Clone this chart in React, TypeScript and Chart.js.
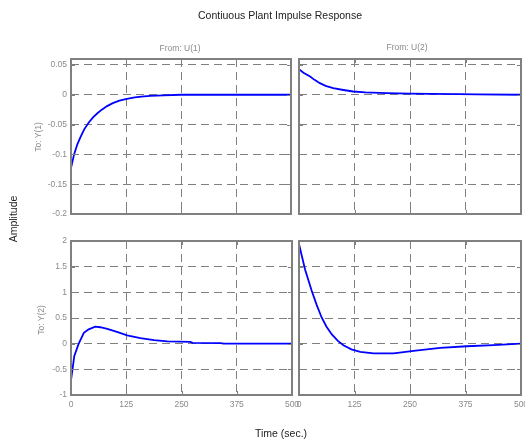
import React, { useEffect, useRef } from "react";
import { Chart, registerables } from "chart.js";

Chart.register(...registerables);

// ---- data ----
const xTickValues = [0, 125, 250, 375, 500];

// From U(1) -> To Y(1)
const times11 = [0, 7, 14, 21, 30, 40, 50, 60, 70, 82, 95, 110, 127, 145, 160, 180, 210, 250, 300, 400, 500];
const values11 = [-0.123, -0.1, -0.084, -0.072, -0.058, -0.047, -0.038, -0.031, -0.025, -0.019, -0.014, -0.01, -0.0067, -0.0045, -0.003, -0.002, -0.001, 0, 0, 0, 0];

// From U(2) -> To Y(1)
const times12 = [0, 10, 25, 35, 47, 60, 77, 100, 122, 150, 198, 250, 300, 360, 400, 500];
const values12 = [0.043, 0.037, 0.0305, 0.025, 0.0195, 0.015, 0.011, 0.008, 0.0055, 0.004, 0.0028, 0.002, 0.0015, 0.001, 0.0005, 0];

// From U(1) -> To Y(2)
const times21 = [0, 7.5, 17, 29, 40, 55, 66, 82, 104, 127, 157, 188, 218, 270, 275, 339, 345, 500];
const values21 = [-0.71, -0.24, -0.01, 0.21, 0.28, 0.33, 0.32, 0.29, 0.23, 0.16, 0.11, 0.07, 0.045, 0.035, 0.015, 0.01, 0, 0];

// From U(2) -> To Y(2)
const times22 = [0, 13.5, 28.6, 40, 51, 62, 74, 87, 100, 118, 138, 168, 213, 258, 318, 378, 438, 500];
const values22 = [1.94, 1.45, 1.03, 0.75, 0.51, 0.33, 0.18, 0.06, -0.03, -0.11, -0.16, -0.19, -0.19, -0.14, -0.08, -0.05, -0.03, 0];

const topYRange = { min: -0.2, max: 0.06, step: 0.05 };
const bottomYRange = { min: -1, max: 2, step: 0.5 };

const FONT = "'Liberation Sans', Arial, Helvetica, sans-serif";
const W = 525;
const H = 441;
const Y_AXIS_W = 40;
const X_AXIS_H = 20;

type Area = { l: number; t: number; r: number; b: number };

type PanelCfg = {
  times: number[];
  values: number[];
  yr: { min: number; max: number; step: number };
  showX: boolean;
  showY: boolean;
  area: Area;
};

const boxPlugin = {
  id: "matlabBox",
  afterDraw(chart: any) {
    const { ctx, chartArea } = chart;
    const { left, top, right, bottom } = chartArea;
    const xs = chart.scales.x;
    const ys = chart.scales.y;
    ctx.save();
    ctx.strokeStyle = "#808080";
    ctx.lineWidth = 1;
    ctx.beginPath();
    const tl = 4;
    xs.ticks.forEach((t: any) => {
      const px = Math.round(xs.getPixelForValue(t.value)) + 0.5;
      ctx.moveTo(px, bottom);
      ctx.lineTo(px, bottom - tl);
      ctx.moveTo(px, top);
      ctx.lineTo(px, top + tl);
    });
    ys.ticks.forEach((t: any) => {
      const py = Math.round(ys.getPixelForValue(t.value)) + 0.5;
      ctx.moveTo(left, py);
      ctx.lineTo(left + tl, py);
      ctx.moveTo(right, py);
      ctx.lineTo(right - tl, py);
    });
    ctx.stroke();
    ctx.lineWidth = 2;
    ctx.strokeRect(left, top, right - left, bottom - top);
    ctx.restore();
  },
};

function Panel({ cfg }: { cfg: PanelCfg }) {
  const ref = useRef<HTMLCanvasElement | null>(null);
  useEffect(() => {
    const { area } = cfg;
    const data = cfg.times.map((t, i) => ({ x: t, y: cfg.values[i] }));
    const chart = new Chart(ref.current as HTMLCanvasElement, {
      type: "line",
      data: {
        datasets: [
          {
            data,
            borderColor: "#0000ff",
            borderWidth: 1.8,
            pointRadius: 0,
            tension: 0,
            fill: false,
          },
        ],
      },
      options: {
        animation: false,
        responsive: false,
        maintainAspectRatio: false,
        events: [],
        layout: {
          padding: {
            left: area.l - Y_AXIS_W,
            top: area.t,
            right: W - area.r,
            bottom: H - area.b - X_AXIS_H,
          },
        },
        plugins: { legend: { display: false }, tooltip: { enabled: false }, title: { display: false } },
        scales: {
          x: {
            type: "linear",
            min: 0,
            max: 500,
            afterBuildTicks: (s: any) => {
              s.ticks = xTickValues.map((v) => ({ value: v }));
            },
            afterFit: (s: any) => {
              s.height = X_AXIS_H;
              s.paddingLeft = 0;
              s.paddingRight = 0;
            },
            grid: { color: "#808080", lineWidth: 1, drawTicks: false },
            border: { display: false, dash: [8, 5] },
            ticks: {
              display: cfg.showX,
              padding: 5,
              color: "#8a8a8a",
              font: { family: FONT, size: 8.5 },
              maxRotation: 0,
              autoSkip: false,
              callback: (v: any) => String(v),
            },
          },
          y: {
            type: "linear",
            min: cfg.yr.min,
            max: cfg.yr.max,
            afterFit: (s: any) => {
              s.width = Y_AXIS_W;
              s.paddingTop = 0;
              s.paddingBottom = 0;
            },
            grid: { color: "#808080", lineWidth: 1, drawTicks: false },
            border: { display: false, dash: [8, 5] },
            ticks: {
              display: cfg.showY,
              stepSize: cfg.yr.step,
              includeBounds: false,
              padding: 4,
              color: "#8a8a8a",
              font: { family: FONT, size: 8.5 },
              callback: (v: any) => String(Math.round(Number(v) * 100) / 100),
            },
          },
        },
      },
      plugins: [boxPlugin],
    } as any);
    return () => chart.destroy();
  }, []);
  return (
    <canvas
      ref={ref}
      width={W}
      height={H}
      style={{ position: "absolute", left: 0, top: 0, width: W, height: H }}
    />
  );
}

const panels: PanelCfg[] = [
  { times: times11, values: values11, yr: topYRange, showX: false, showY: true, area: { l: 71, t: 59, r: 291, b: 214 } },
  { times: times12, values: values12, yr: topYRange, showX: false, showY: false, area: { l: 299, t: 59, r: 521, b: 214 } },
  { times: times21, values: values21, yr: bottomYRange, showX: true, showY: true, area: { l: 71, t: 241, r: 292, b: 395 } },
  { times: times22, values: values22, yr: bottomYRange, showX: true, showY: false, area: { l: 299, t: 241, r: 521, b: 395 } },
];

function Label({ text, x, y, size, color, rotate }: { text: string; x: number; y: number; size: number; color: string; rotate?: boolean }) {
  return (
    <div
      style={{
        position: "absolute",
        left: x,
        top: y,
        transform: `translate(-50%, -50%)${rotate ? " rotate(-90deg)" : ""}`,
        fontFamily: FONT,
        fontSize: size,
        color,
        whiteSpace: "nowrap",
        lineHeight: 1,
      }}
    >
      {text}
    </div>
  );
}

export default function App() {
  return (
    <div style={{ position: "fixed", left: 0, top: 0, width: W, height: H, background: "#fff", overflow: "hidden" }}>
      {panels.map((p, i) => (
        <Panel key={i} cfg={p} />
      ))}
      <Label text="Contiuous Plant Impulse Response" x={280} y={15} size={10.5} color="#222" />
      <Label text="From: U(1)" x={180} y={48} size={8.5} color="#8a8a8a" />
      <Label text="From: U(2)" x={407} y={47} size={8.5} color="#8a8a8a" />
      <Label text="To: Y(1)" x={38} y={137} size={8.5} color="#8a8a8a" rotate />
      <Label text="To: Y(2)" x={41} y={320} size={8.5} color="#8a8a8a" rotate />
      <Label text="Amplitude" x={13} y={219} size={10.5} color="#222" rotate />
      <Label text="Time (sec.)" x={281} y={433} size={10.5} color="#222" />
    </div>
  );
}
